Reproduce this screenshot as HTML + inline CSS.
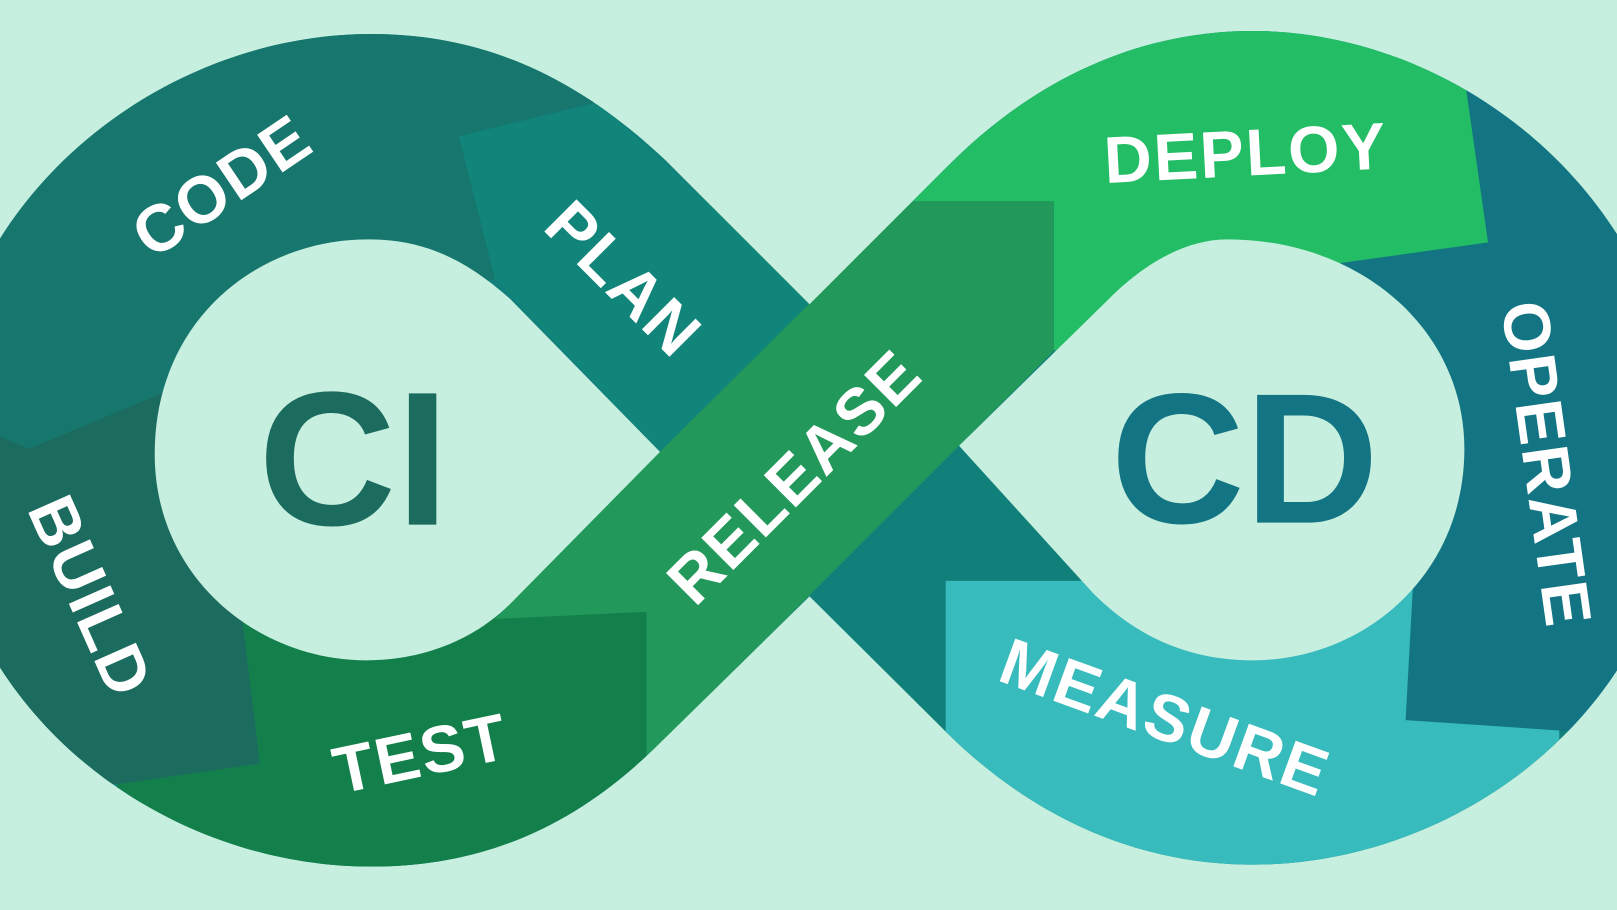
<!DOCTYPE html>
<html><head><meta charset="utf-8"><style>
html,body{margin:0;padding:0;background:#c6efdf;width:1617px;height:910px;overflow:hidden;position:relative;}
svg{display:block;position:absolute;left:0;top:0;overflow:hidden}
text{font-family:"Liberation Sans",sans-serif;font-weight:bold;fill:#fff;text-anchor:middle;dominant-baseline:central}
</style></head><body>
<svg width="1617" height="910" viewBox="0 0 1568 882" preserveAspectRatio="none" xmlns="http://www.w3.org/2000/svg">
<defs>
<clipPath id="outer"><path d="M785,295 L645,155 C560,75 470,33 360,33 C150,33 -60,200 -60,440 C-60,680 150,840 360,840 C470,840 560,800 640,720 L785,578 L920,712 C1000,790 1100,838 1215,838 C1420,838 1630,680 1630,440 C1630,200 1420,30 1215,30 C1100,30 1000,80 920,160 Z"/></clipPath>
</defs>
<rect width="1568" height="882" fill="#c6efdf"/>
<g clip-path="url(#outer)">
<rect x="-100" y="-100" width="1800" height="1100" fill="#12807a"/>
<polygon points="-100,-100 620,-100 575,100 445,132 480,270 160,380 28,435 -100,380" fill="#17766d"/>
<polygon points="-100,380 28,435 160,380 235,600 252,740 115,760 -100,760" fill="#1b6b5e"/>
<polygon points="115,760 252,740 235,600 627,593 627,1000 -100,1000" fill="#137f4a"/>
<polygon points="445,132 580,100 800,300 640,438 480,270" fill="#12857a"/>
<polygon points="480,600 640,438 885,195 1022,195 1022,340 627,735 627,593" fill="#22985a"/>
<polygon points="850,-100 1410,-100 1422,88 1443,235 1300,255 1022,340 1022,195 885,195" fill="#22bd65"/>
<polygon points="1410,-100 1700,-100 1700,720 1512,708 1363,698 1370,570 1300,255 1443,235 1422,88" fill="#137583"/>
<polygon points="917,563 1055,563 1370,570 1363,698 1512,708 1512,1000 917,1000" fill="#38bbbd"/>
</g>
<path d="M640,438 L495,290 C450,250 410,232 357,232 C250,232 150,310 150,440 C150,560 250,640 355,640 C410,640 460,620 495,585 Z" fill="#c6efdf"/>
<path d="M930,432 L1075,290 C1110,255 1150,232 1190,232 C1320,232 1420,320 1420,435 C1420,560 1320,640 1215,640 C1150,640 1100,615 1060,575 Z" fill="#c6efdf"/>
<text x="343" y="445" font-size="185" style="fill:#1b6b5e">CI</text>
<text x="1207" y="445" font-size="180" style="fill:#137583">CD</text>
<text font-size="64" letter-spacing="2" transform="translate(215,180) rotate(-34)">CODE</text>
<text font-size="64" letter-spacing="2" transform="translate(605,270) rotate(45)">PLAN</text>
<text font-size="64" letter-spacing="2" transform="translate(770,462) rotate(-45)">RELEASE</text>
<text font-size="64" letter-spacing="2" transform="translate(1208,148) rotate(-3)">DEPLOY</text>
<text font-size="64" letter-spacing="2" transform="translate(1500,450) rotate(82)">OPERATE</text>
<text font-size="64" letter-spacing="2" transform="translate(1130,695) rotate(20)">MEASURE</text>
<text font-size="64" letter-spacing="2" transform="translate(408,730) rotate(-12)">TEST</text>
<text font-size="64" letter-spacing="2" transform="translate(88,578) rotate(66)">BUILD</text>
</svg>
</body></html>
